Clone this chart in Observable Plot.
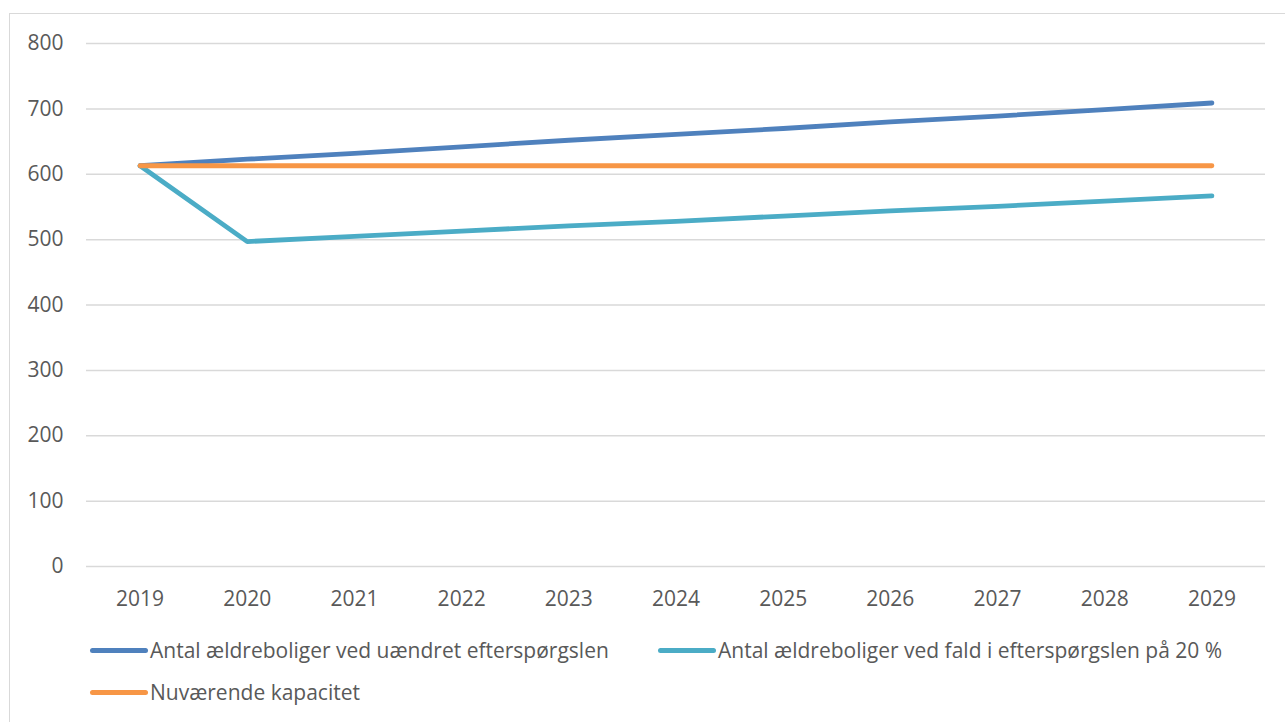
<!DOCTYPE html>
<html>
<head>
<meta charset="utf-8">
<script src="https://cdn.jsdelivr.net/npm/d3@7"></script>
<script src="https://cdn.jsdelivr.net/npm/@observablehq/plot@0.6"></script>
<style>
  html, body { margin: 0; padding: 0; background: #fff; }
  body { width: 1285px; height: 722px; overflow: hidden; position: relative; font-family: "Open Sans", sans-serif; }
  #frame { position: absolute; left: 9px; top: 13px; width: 1300px; height: 740px; border: 1.5px solid #d9d9d9; box-sizing: border-box; }
  #chart { position: absolute; left: 0; top: 0; }
  .legend { position: absolute; font-size: 21px; color: #595959; display: flex; align-items: center; white-space: nowrap; }
  .legend .sw { width: 58px; height: 5px; border-radius: 3px; margin-right: 2px; }
</style>
</head>
<body>
<div id="frame"></div>
<div id="chart"></div>
<script>
const years = [2019, 2020, 2021, 2022, 2023, 2024, 2025, 2026, 2027, 2028, 2029];
const seriesNames = [
  "Antal ældreboliger ved uændret efterspørgslen",
  "Antal ældreboliger ved fald i efterspørgslen på 20 %",
  "Nuværende kapacitet"
];
const seriesColors = ["#4f81bd", "#4bacc6", "#f79646"];
const uaendret = [613, 623, 632, 642, 652, 661, 670, 680, 689, 699, 709];
const fald20 = [613, 497, 505, 513, 521, 528, 536, 544, 551, 559, 567];
const kapacitet = [613, 613, 613, 613, 613, 613, 613, 613, 613, 613, 613];
const yTicks = [0, 100, 200, 300, 400, 500, 600, 700, 800];

const valuesBySeries = [uaendret, fald20, kapacitet];
const data = [];
seriesNames.forEach((s, i) => years.forEach((y, j) => data.push({series: s, year: y, value: valuesBySeries[i][j]})));

const plot = Plot.plot({
  width: 1285,
  height: 620,
  marginLeft: 86,
  marginRight: 20,
  marginTop: 43,
  marginBottom: 54,
  style: { fontSize: "21px", fontFamily: "Open Sans, sans-serif", color: "#595959", background: "transparent", overflow: "visible" },
  x: { domain: [2018.5, 2029.5], ticks: years, tickFormat: d => String(d), tickSize: 0, tickPadding: 25, label: null },
  y: { domain: [0, 800], ticks: yTicks, tickSize: 0, tickPadding: 23, label: null },
  color: { domain: seriesNames, range: seriesColors },
  marks: [
    Plot.ruleY(yTicks, { stroke: "#d9d9d9", strokeWidth: 1.5 }),
    Plot.line(data, { x: "year", y: "value", stroke: "series", z: "series", strokeWidth: 4.8, strokeLinecap: "round", strokeLinejoin: "round" }),
    Plot.axisX({ ticks: years, tickFormat: d => String(d), tickSize: 0, tickPadding: 25, fill: "#595959" }),
    Plot.axisY({ ticks: yTicks, tickSize: 0, tickPadding: 23, fill: "#595959" })
  ]
});
document.getElementById("chart").appendChild(plot);

const legendPos = [[90, 650], [658, 650], [90, 692]];
seriesNames.forEach((s, i) => {
  const d = document.createElement("div");
  d.className = "legend";
  d.style.left = legendPos[i][0] + "px";
  d.style.top = (legendPos[i][1] - 15) + "px";
  d.style.height = "30px";
  const sw = document.createElement("span");
  sw.className = "sw";
  sw.style.background = seriesColors[i];
  const t = document.createElement("span");
  t.textContent = s;
  d.appendChild(sw);
  d.appendChild(t);
  document.body.appendChild(d);
});
</script>
</body>
</html>
